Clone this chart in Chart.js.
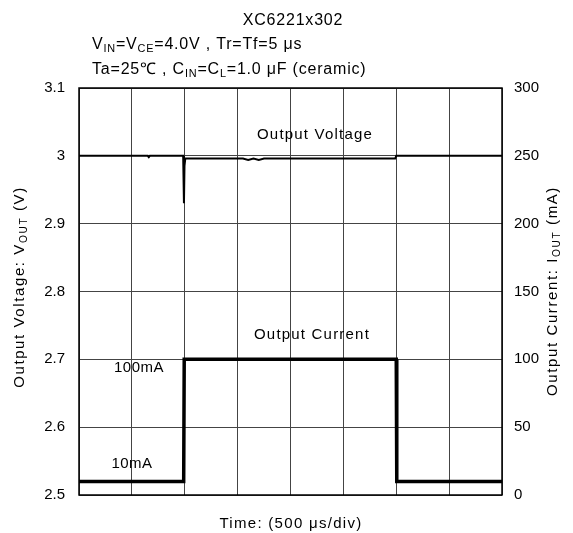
<!DOCTYPE html>
<html>
<head>
<meta charset="utf-8">
<script src="https://cdn.jsdelivr.net/npm/chart.js@4.4.1/dist/chart.umd.min.js"></script>
<style>
  html, body { margin: 0; padding: 0; background: #fff; }
  #wrap { width: 573px; height: 533px; position: relative; }
</style>
</head>
<body>
<div id="wrap"><canvas id="grafico" width="573" height="533"></canvas></div>
<script>
// Datos (tiempo en divisiones de 500us)
const tiempoCorriente = [0, 1.98, 1.99, 6.0, 6.01, 8];
const corriente = [10, 10, 100, 100, 10, 10];

const tiempoTension = [0, 1.3, 1.32, 1.34, 1.97, 1.985, 1.995, 2.01, 2.05, 2.2, 3.1, 3.2, 3.3, 3.4, 3.5, 3.6, 5.98, 6.0, 8];
const tension = [3.0, 3.0, 2.998, 3.0, 3.0, 2.93, 2.985, 2.996, 2.996, 2.996, 2.996, 2.994, 2.996, 2.994, 2.996, 2.996, 2.996, 3.0, 3.0];

const ticksTension = [2.5, 2.6, 2.7, 2.8, 2.9, 3.0, 3.1];
const ticksCorriente = [0, 50, 100, 150, 200, 250, 300];

const fuente = "'Liberation Sans', Arial, sans-serif";

// pares x,y para la escala lineal
function pares(xs, ys) {
    return xs.map((x, i) => ({ x: x, y: ys[i] }));
}

// texto con subindices: [["V"], ["IN", true], ...]
function textoRico(ctx, partes, x, y, tam, alinear, espacio) {
    ctx.letterSpacing = (espacio || 0) + 'px';
    let ancho = 0;
    partes.forEach(p => {
        ctx.font = (p[1] ? tam * 0.68 : tam) + "px " + fuente;
        ancho += ctx.measureText(p[0]).width;
    });
    let cx = alinear === 'center' ? x - ancho / 2 : x;
    partes.forEach(p => {
        ctx.font = (p[1] ? tam * 0.68 : tam) + "px " + fuente;
        ctx.fillText(p[0], cx, p[1] ? y + tam * 0.28 : y);
        cx += ctx.measureText(p[0]).width;
    });
    ctx.letterSpacing = '0px';
}

const textos = {
    id: 'textos',
    afterDraw(chart) {
        const ctx = chart.ctx;
        const a = chart.chartArea;
        ctx.save();
        ctx.fillStyle = '#000';
        ctx.textBaseline = 'middle';
        ctx.textAlign = 'left';

        // marco
        ctx.strokeStyle = '#000';
        ctx.lineWidth = 1.5;
        ctx.strokeRect(a.left, a.top, a.right - a.left, a.bottom - a.top);

        textoRico(ctx, [["XC6221x302"]], 293, 21, 16, 'center', 0.8);
        textoRico(ctx, [["V"], ["IN", true], ["=V"], ["CE", true], ["=4.0V , Tr=Tf=5 \u03bcs"]], 92, 45, 16, 'left', 0.8);
        textoRico(ctx, [["Ta=25\u2103 , C"], ["IN", true], ["=C"], ["L", true], ["=1.0 \u03bcF (ceramic)"]], 92, 70, 16, 'left', 0.8);

        textoRico(ctx, [["Output Voltage"]], 315, 135, 15, 'center', 1.2);
        textoRico(ctx, [["Output Current"]], 312, 335, 15, 'center', 1.2);
        textoRico(ctx, [["100mA"]], 139, 368, 15, 'center', 0.5);
        textoRico(ctx, [["10mA"]], 132, 464, 15, 'center', 0.5);
        textoRico(ctx, [["Time: (500 \u03bcs/div)"]], 291, 524, 15, 'center', 1.3);

        ctx.save();
        ctx.translate(20, 287);
        ctx.rotate(-Math.PI / 2);
        textoRico(ctx, [["Output Voltage: V"], ["OUT", true], [" (V)"]], 0, 0, 15, 'center', 1.6);
        ctx.restore();

        ctx.save();
        ctx.translate(553, 291);
        ctx.rotate(-Math.PI / 2);
        textoRico(ctx, [["Output Current: I"], ["OUT", true], [" (mA)"]], 0, 0, 15, 'center', 1.6);
        ctx.restore();

        ctx.restore();
    }
};

new Chart(document.getElementById('grafico'), {
    type: 'line',
    data: {
        datasets: [{
            label: 'Output Voltage',
            data: pares(tiempoTension, tension),
            yAxisID: 'yV',
            borderColor: '#000',
            borderWidth: 2,
            pointRadius: 0,
            tension: 0
        }, {
            label: 'Output Current',
            data: pares(tiempoCorriente, corriente),
            yAxisID: 'yI',
            borderColor: '#000',
            borderWidth: 3.5,
            pointRadius: 0,
            tension: 0
        }]
    },
    options: {
        responsive: false,
        animation: false,
        layout: { padding: { top: 88, left: 0, right: 0, bottom: 0 } },
        plugins: { legend: { display: false }, tooltip: { enabled: false } },
        scales: {
            x: {
                type: 'linear',
                min: 0,
                max: 8,
                afterFit: s => { s.height = 38; },
                ticks: { display: false, stepSize: 1 },
                grid: { color: '#444', lineWidth: 1, drawTicks: false },
                border: { display: false }
            },
            yV: {
                position: 'left',
                min: 2.5,
                max: 3.1,
                afterFit: s => { s.width = 79; },
                afterBuildTicks: s => { s.ticks = ticksTension.map(v => ({ value: v })); },
                ticks: {
                    color: '#000',
                    padding: 14,
                    font: { family: fuente, size: 15 },
                    callback: v => (v === 3 ? '3' : v.toFixed(1))
                },
                grid: { color: '#444', lineWidth: 1, drawTicks: false },
                border: { display: false }
            },
            yI: {
                position: 'right',
                min: 0,
                max: 300,
                afterFit: s => { s.width = 71; },
                afterBuildTicks: s => { s.ticks = ticksCorriente.map(v => ({ value: v })); },
                ticks: {
                    color: '#000',
                    padding: 12,
                    font: { family: fuente, size: 15 }
                },
                grid: { display: false, drawTicks: false },
                border: { display: false }
            }
        }
    },
    plugins: [textos]
});
</script>
</body>
</html>
